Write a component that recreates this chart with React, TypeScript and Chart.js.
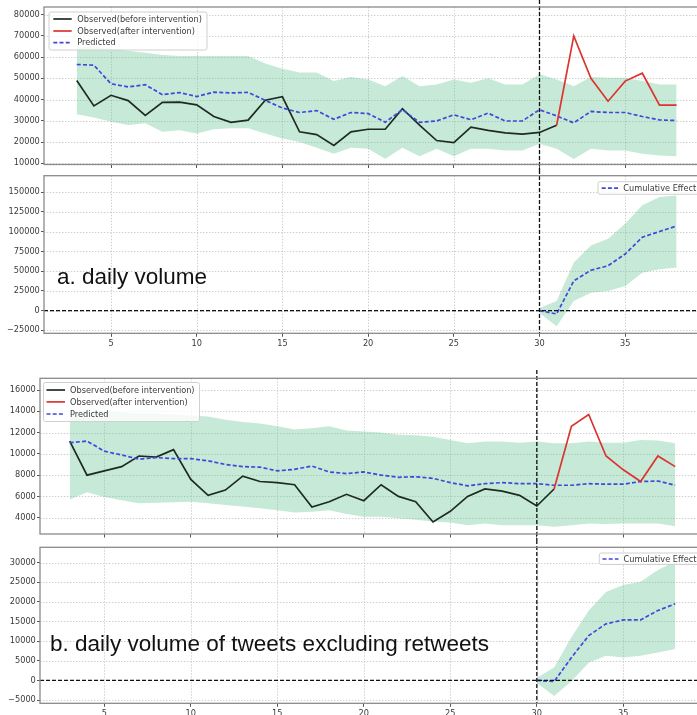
import React, { useEffect, useRef } from 'react';
import { Chart, registerables } from 'chart.js';

Chart.register(...registerables);

// ---------------- DATA ----------------
const days = [3, 4, 5, 6, 7, 8, 9, 10, 11, 12, 13, 14, 15, 16, 17, 18, 19, 20, 21, 22, 23, 24, 25, 26, 27, 28, 29, 30, 31, 32, 33, 34, 35, 36, 37, 38];
const beforeDays = [3, 4, 5, 6, 7, 8, 9, 10, 11, 12, 13, 14, 15, 16, 17, 18, 19, 20, 21, 22, 23, 24, 25, 26, 27, 28, 29, 30, 31];
const afterDays = [31, 32, 33, 34, 35, 36, 37, 38];
const effectDays = [30, 31, 32, 33, 34, 35, 36, 37, 38];
const xTicks = [5, 10, 15, 20, 25, 30, 35];
const interventionDay = 30;

// a. daily volume
const aObservedBefore = [49000, 37000, 42000, 39500, 32500, 38700, 38800, 37500, 32000, 29300, 30300, 39700, 41300, 24800, 23500, 18400, 24800, 26000, 26000, 35700, 28000, 20700, 19700, 27000, 25500, 24300, 23700, 24500, 27900];
const aObservedAfter = [27900, 70000, 50000, 39200, 48700, 52400, 37400, 37400];
const aPredicted = [56500, 56200, 47400, 46000, 47000, 42300, 43300, 41400, 43500, 43100, 43400, 39600, 36000, 33900, 34800, 30700, 33900, 33400, 29300, 35200, 29300, 29900, 32800, 30500, 33600, 29900, 29900, 35200, 32300, 29000, 34400, 33900, 33900, 32000, 30400, 30100];
const aPredUpper = [64500, 65000, 64000, 63000, 62000, 61000, 60500, 60500, 60500, 60500, 60500, 57000, 54500, 52800, 52800, 48700, 50600, 49500, 46300, 51100, 46300, 47100, 49500, 47900, 50000, 47100, 47100, 51900, 49500, 46300, 50600, 50300, 50300, 48700, 47100, 47100];
const aPredLower = [33100, 31500, 29500, 28000, 28800, 24800, 25500, 24000, 26000, 26500, 26500, 24000, 21600, 20000, 17300, 14500, 17300, 16800, 12100, 17300, 13300, 16800, 13300, 16800, 16800, 16000, 16000, 19200, 16800, 12000, 16800, 16000, 16000, 14500, 13600, 13300];
const aEffect = [0, -4300, 37600, 51200, 56800, 71700, 93000, 100300, 107200];
const aEffectUpper = [3400, 12000, 61000, 82400, 91000, 110000, 133600, 144000, 146000];
const aEffectLower = [-3000, -20000, 12000, 22600, 24800, 31200, 48000, 52500, 54700];
const aYTicks = [10000, 20000, 30000, 40000, 50000, 60000, 70000, 80000];
const aEffectYTicks = [-25000, 0, 25000, 50000, 75000, 100000, 125000, 150000];

// b. daily volume of tweets excluding retweets
const bObservedBefore = [11200, 8000, 8400, 8800, 9800, 9700, 10400, 7600, 6100, 6600, 7900, 7400, 7300, 7100, 5000, 5500, 6200, 5600, 7100, 6000, 5500, 3600, 4600, 6000, 6700, 6500, 6100, 5100, 6700];
const bObservedAfter = [6700, 12600, 13700, 9800, 8500, 7400, 9800, 8800];
const bPredicted = [11050, 11200, 10250, 9900, 9500, 9650, 9550, 9550, 9350, 9000, 8800, 8750, 8400, 8550, 8850, 8300, 8150, 8300, 8000, 7800, 7850, 7700, 7300, 7000, 7200, 7300, 7200, 7200, 7050, 7050, 7200, 7150, 7150, 7400, 7450, 7050];
const bPredUpper = [13900, 13900, 13900, 13900, 13800, 13800, 13700, 13600, 13500, 13200, 13000, 12850, 12600, 12300, 12400, 12600, 12200, 12100, 12000, 11800, 11750, 11600, 11300, 11000, 11150, 11150, 11050, 11150, 11000, 11000, 11150, 11050, 11050, 11300, 11250, 11000];
const bPredLower = [5700, 6400, 5950, 5650, 5350, 5400, 5450, 5500, 5350, 5200, 5050, 4900, 4700, 4500, 4550, 4700, 4350, 4100, 4100, 3950, 3800, 3650, 3550, 3300, 3450, 3300, 3300, 3300, 3150, 3300, 3450, 3400, 3450, 3450, 3450, 3200];
const bEffect = [0, -300, 5800, 11400, 14400, 15400, 15400, 17800, 19500];
const bEffectUpper = [700, 3300, 11000, 17800, 22500, 24300, 25100, 28100, 30300];
const bEffectLower = [-600, -4000, -200, 4500, 6300, 5800, 6300, 7100, 8000];
const bYTicks = [4000, 6000, 8000, 10000, 12000, 14000, 16000];
const bEffectYTicks = [-5000, 0, 5000, 10000, 15000, 20000, 25000, 30000];

const labelBefore = 'Observed(before intervention)';
const labelAfter = 'Observed(after intervention)';
const labelPredicted = 'Predicted';
const labelEffect = 'Cumulative Effect';
const captionA = 'a. daily volume';
const captionB = 'b. daily volume of tweets excluding retweets';

// ---------------- STYLE ----------------
const FONT = 'DejaVu Sans';
const FONT_SIZE = 8.2;
const C_BLACK = '#1f2a23';
const C_RED = '#dc3530';
const C_BLUE = '#3f48da';
const C_BAND = 'rgba(100,195,145,0.36)';
const BLUE_DASH = [4, 2.2];
const TEXT_COLOR = '#3a3a3a';

const pts = (xs: number[], ys: number[]) => xs.map((x, i) => ({ x, y: ys[i] }));

interface LegendItem { label: string; color: string; dash: number[] }
interface LegendSpec {
  x: number; y: number; w: number; h: number;
  rows: number[]; lx0: number; lx1: number; tx: number;
  items: LegendItem[];
}
interface PanelSpec {
  top: number; height: number; width: number;
  areaTop: number; areaBottom: number; areaLeft: number; areaRight: number;
  xMin: number; xMax: number; yMin: number; yMax: number;
  yTicks: number[]; showXLabels: boolean; zeroLine: boolean; vlineFull: boolean;
  datasets: any[];
  legend: LegendSpec;
}

const fmt = (v: number) => (v < 0 ? '\u2212' + Math.abs(v) : String(v));

function lineDs(data: any[], color: string, dash: number[], order: number) {
  return {
    data, borderColor: color, borderWidth: 1.7, borderDash: dash,
    pointRadius: 0, tension: 0, fill: false, order,
  };
}
function bandDs(upper: any[], lower: any[]) {
  return [
    { data: upper, borderColor: 'rgba(0,0,0,0)', borderWidth: 0, pointRadius: 0, fill: false, order: 10, backgroundColor: 'rgba(0,0,0,0)' },
    { data: lower, borderColor: 'rgba(0,0,0,0)', borderWidth: 0, pointRadius: 0, fill: '-1', order: 11, backgroundColor: C_BAND },
  ];
}

const mainLegendItems: LegendItem[] = [
  { label: labelBefore, color: C_BLACK, dash: [] },
  { label: labelAfter, color: C_RED, dash: [] },
  { label: labelPredicted, color: C_BLUE, dash: BLUE_DASH },
];
const effectLegendItems: LegendItem[] = [{ label: labelEffect, color: C_BLUE, dash: BLUE_DASH }];

const panels: PanelSpec[] = [
  {
    top: 0, height: 170, width: 720,
    areaTop: 7, areaBottom: 164.5, areaLeft: 44, areaRight: 715,
    xMin: 1.09, xMax: 40.24, yMin: 9400, yMax: 83600,
    yTicks: aYTicks, showXLabels: false, zeroLine: false, vlineFull: true,
    datasets: [
      ...bandDs(pts(days, aPredUpper), pts(days, aPredLower)),
      lineDs(pts(beforeDays, aObservedBefore), C_BLACK, [], 3),
      lineDs(pts(afterDays, aObservedAfter), C_RED, [], 1),
      lineDs(pts(days, aPredicted), C_BLUE, BLUE_DASH, 2),
    ],
    legend: { x: 49, y: 12, w: 158, h: 38, rows: [19, 31, 42.7], lx0: 53.3, lx1: 71.7, tx: 77.3, items: mainLegendItems },
  },
  {
    top: 170, height: 180, width: 720,
    areaTop: 5.7, areaBottom: 163.3, areaLeft: 44, areaRight: 715,
    xMin: 1.09, xMax: 40.24, yMin: -28800, yMax: 171000,
    yTicks: aEffectYTicks, showXLabels: true, zeroLine: true, vlineFull: false,
    datasets: [
      ...bandDs(pts(effectDays, aEffectUpper), pts(effectDays, aEffectLower)),
      lineDs(pts(effectDays, aEffect), C_BLUE, BLUE_DASH, 1),
    ],
    legend: { x: 598, y: 11.7, w: 130, h: 12.6, rows: [18.2], lx0: 601.7, lx1: 618, tx: 623.3, items: effectLegendItems },
  },
  {
    top: 370, height: 170, width: 720,
    areaTop: 8.3, areaBottom: 164, areaLeft: 40, areaRight: 715,
    xMin: 1.283, xMax: 40.3, yMin: 2470, yMax: 17100,
    yTicks: bYTicks, showXLabels: false, zeroLine: false, vlineFull: true,
    datasets: [
      ...bandDs(pts(days, bPredUpper), pts(days, bPredLower)),
      lineDs(pts(beforeDays, bObservedBefore), C_BLACK, [], 3),
      lineDs(pts(afterDays, bObservedAfter), C_RED, [], 1),
      lineDs(pts(days, bPredicted), C_BLUE, BLUE_DASH, 2),
    ],
    legend: { x: 43.5, y: 12.5, w: 156, h: 39, rows: [20, 31.9, 44], lx0: 46.5, lx1: 65, tx: 70, items: mainLegendItems },
  },
  {
    top: 540, height: 175, width: 720,
    areaTop: 7.3, areaBottom: 163.3, areaLeft: 40, areaRight: 715,
    xMin: 1.283, xMax: 40.3, yMin: -5840, yMax: 33900,
    yTicks: bEffectYTicks, showXLabels: true, zeroLine: true, vlineFull: false,
    datasets: [
      ...bandDs(pts(effectDays, bEffectUpper), pts(effectDays, bEffectLower)),
      lineDs(pts(effectDays, bEffect), C_BLUE, BLUE_DASH, 1),
    ],
    legend: { x: 599.3, y: 13, w: 130, h: 11.5, rows: [19], lx0: 602.5, lx1: 618.5, tx: 623.5, items: effectLegendItems },
  },
];

function decorPlugin(spec: PanelSpec) {
  return {
    id: 'decor',
    beforeDatasetsDraw(chart: any) {
      const { ctx, chartArea: a, scales } = chart;
      ctx.save();
      ctx.strokeStyle = '#c2c2c2';
      ctx.lineWidth = 0.8;
      ctx.setLineDash([1.4, 1.6]);
      ctx.beginPath();
      for (const v of xTicks) {
        const x = Math.round(scales.x.getPixelForValue(v)) + 0.5;
        ctx.moveTo(x, a.top);
        ctx.lineTo(x, a.bottom);
      }
      for (const v of spec.yTicks) {
        const y = Math.round(scales.y.getPixelForValue(v)) + 0.5;
        ctx.moveTo(a.left, y);
        ctx.lineTo(a.right, y);
      }
      ctx.stroke();
      ctx.restore();
    },
    afterDatasetsDraw(chart: any) {
      const { ctx, chartArea: a, scales } = chart;
      ctx.save();
      ctx.strokeStyle = '#111';
      ctx.lineWidth = 1.3;
      ctx.setLineDash([4, 2]);
      if (spec.zeroLine) {
        const y0 = scales.y.getPixelForValue(0);
        ctx.beginPath();
        ctx.moveTo(a.left, y0);
        ctx.lineTo(a.right, y0);
        ctx.stroke();
      }
      const xv = scales.x.getPixelForValue(interventionDay);
      ctx.beginPath();
      ctx.moveTo(xv, 0);
      ctx.lineTo(xv, spec.vlineFull ? chart.height : a.bottom);
      ctx.stroke();
      // frame
      ctx.setLineDash([]);
      ctx.strokeStyle = '#8a8a8a';
      ctx.lineWidth = 1.3;
      ctx.strokeRect(a.left, a.top, a.right - a.left, a.bottom - a.top);
      ctx.restore();
    },
    afterDraw(chart: any) {
      const { ctx } = chart;
      const L = spec.legend;
      ctx.save();
      ctx.fillStyle = 'rgba(255,255,255,0.8)';
      ctx.strokeStyle = '#d0d0d0';
      ctx.lineWidth = 1;
      ctx.beginPath();
      const r = 2;
      ctx.moveTo(L.x + r, L.y);
      ctx.lineTo(L.x + L.w - r, L.y);
      ctx.quadraticCurveTo(L.x + L.w, L.y, L.x + L.w, L.y + r);
      ctx.lineTo(L.x + L.w, L.y + L.h - r);
      ctx.quadraticCurveTo(L.x + L.w, L.y + L.h, L.x + L.w - r, L.y + L.h);
      ctx.lineTo(L.x + r, L.y + L.h);
      ctx.quadraticCurveTo(L.x, L.y + L.h, L.x, L.y + L.h - r);
      ctx.lineTo(L.x, L.y + r);
      ctx.quadraticCurveTo(L.x, L.y, L.x + r, L.y);
      ctx.closePath();
      ctx.fill();
      ctx.stroke();
      ctx.font = `${FONT_SIZE}px "${FONT}"`;
      ctx.textBaseline = 'middle';
      ctx.textAlign = 'left';
      L.items.forEach((it, i) => {
        const y = L.rows[i];
        ctx.strokeStyle = it.color;
        ctx.lineWidth = 1.7;
        ctx.setLineDash(it.dash);
        ctx.beginPath();
        ctx.moveTo(L.lx0, y);
        ctx.lineTo(L.lx1, y);
        ctx.stroke();
        ctx.fillStyle = TEXT_COLOR;
        ctx.fillText(it.label, L.tx, y + 0.5);
      });
      ctx.restore();
    },
  };
}

function Panel({ spec }: { spec: PanelSpec }) {
  const ref = useRef<HTMLCanvasElement>(null);
  useEffect(() => {
    const zeroPad = (s: any) => {
      s.paddingTop = 0; s.paddingBottom = 0; s.paddingLeft = 0; s.paddingRight = 0;
    };
    const chart = new Chart(ref.current as HTMLCanvasElement, {
      type: 'line',
      data: { datasets: spec.datasets },
      plugins: [decorPlugin(spec)],
      options: {
        responsive: false,
        animation: false,
        devicePixelRatio: 1,
        events: [],
        layout: { padding: { top: spec.areaTop, left: 0, bottom: 0, right: spec.width - spec.areaRight } },
        plugins: { legend: { display: false }, tooltip: { enabled: false }, title: { display: false } },
        scales: {
          x: {
            type: 'linear',
            min: spec.xMin,
            max: spec.xMax,
            afterBuildTicks: (s: any) => { s.ticks = xTicks.map((v) => ({ value: v })); },
            afterFit: (s: any) => { s.height = spec.height - spec.areaBottom; zeroPad(s); },
            grid: { display: true, drawOnChartArea: false, drawTicks: true, tickLength: 3.5, color: '#555', lineWidth: 1 },
            border: { display: false },
            ticks: {
              display: spec.showXLabels,
              padding: 2.5,
              color: TEXT_COLOR,
              font: { family: FONT, size: FONT_SIZE },
              maxRotation: 0,
              autoSkip: false,
              callback: (v: any) => fmt(Number(v)),
            },
          },
          y: {
            type: 'linear',
            min: spec.yMin,
            max: spec.yMax,
            afterBuildTicks: (s: any) => { s.ticks = spec.yTicks.map((v) => ({ value: v })); },
            afterFit: (s: any) => { s.width = spec.areaLeft; zeroPad(s); },
            grid: { display: true, drawOnChartArea: false, drawTicks: true, tickLength: 3, color: '#555', lineWidth: 1 },
            border: { display: false },
            ticks: {
              padding: 1.2,
              color: TEXT_COLOR,
              font: { family: FONT, size: FONT_SIZE },
              autoSkip: false,
              callback: (v: any) => fmt(Number(v)),
            },
          },
        },
      } as any,
    });
    return () => chart.destroy();
  }, [spec]);
  return (
    <canvas
      ref={ref}
      width={spec.width}
      height={spec.height}
      style={{ position: 'absolute', left: 0, top: spec.top, width: spec.width, height: spec.height, display: 'block' }}
    />
  );
}

const captionStyle: React.CSSProperties = {
  position: 'absolute',
  fontFamily: '"Liberation Sans", Arial, sans-serif',
  fontSize: 22.5,
  lineHeight: '22.5px',
  color: '#111',
  whiteSpace: 'nowrap',
  pointerEvents: 'none',
};

export default function App() {
  return (
    <div style={{ position: 'fixed', left: 0, top: 0, width: 697, height: 715, overflow: 'hidden', background: '#fff' }}>
      {panels.map((p, i) => (
        <Panel key={i} spec={p} />
      ))}
      <div style={{ ...captionStyle, left: 57, top: 266 }}>{captionA}</div>
      <div style={{ ...captionStyle, left: 50, top: 632.6 }}>{captionB}</div>
    </div>
  );
}
